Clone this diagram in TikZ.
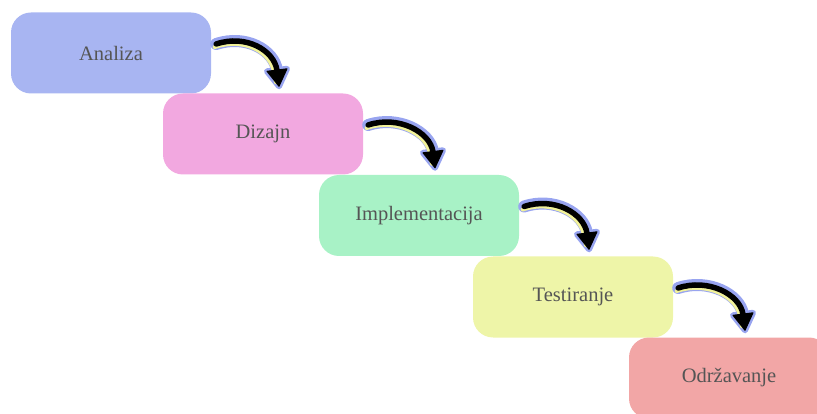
\documentclass[tikz,border=0pt]{standalone}
\usepackage{fontspec}
\setmainfont{Liberation Serif}
\usetikzlibrary{arrows.meta}
\definecolor{cA}{HTML}{A8B5F2}
\definecolor{cB}{HTML}{F2A8E0}
\definecolor{cC}{HTML}{A8F2C6}
\definecolor{cD}{HTML}{EEF5A8}
\definecolor{cE}{HTML}{F2A6A6}
\definecolor{glow}{HTML}{98A4F0}
\definecolor{hilite}{HTML}{F2F29A}
\definecolor{txt}{HTML}{555555}
\tikzset{
  stage/.style={rounded corners=20pt, minimum width=200pt, minimum height=81pt,
    inner sep=0pt, text=txt, font=\fontsize{20.5pt}{24pt}\selectfont},
  glowline/.style={draw=glow, line width=12pt, line cap=round, line join=round},
  glowtip/.style={draw=glow, fill=glow, line width=6pt, line join=round},
  hiline/.style={draw=hilite, line width=4pt, line cap=round},
  blackline/.style={draw=black, line width=5.5pt, line cap=round},
  blacktip/.style={draw=black, fill=black, line width=1pt, line join=round},
}
\begin{document}
\begin{tikzpicture}[x=1pt,y=1pt]
\useasboundingbox (0,0) rectangle (817,-414);
\node[stage, fill=cA] (a) at (111,-53) {Analiza};
\node[stage, fill=cB] (b) at (263,-134) {Dizajn};
\node[stage, fill=cC] (c) at (419,-215.5) {Implementacija};
\node[stage, fill=cD] (d) at (573,-297) {Testiranje};
\node[stage, fill=cE] (e) at (729,-378) {Održavanje};
\foreach \s/\t in {a/b,b/c,c/d,d/e}{
  \coordinate (s\s) at ([xshift=5pt,yshift=9pt]\s.east);
  \coordinate (m\s) at ([xshift=14pt,yshift=23pt]\t.north);
  \path[glowline] (s\s) .. controls +(30,10) and +(-3,20) .. (m\s);
  \path[glowtip] ([shift={(-10,-1)}]m\s) -- ([shift={(10,1.5)}]m\s) -- ([shift={(2,-16)}]m\s) -- cycle;
  \path[hiline] ([shift={(-1.5,-3)}]s\s) .. controls +(30,10) and +(-3,20) .. ([shift={(-3,-2)}]m\s) -- ([shift={(-1,-12)}]m\s);
  \path[blackline] (s\s) .. controls +(30,10) and +(-3,20) .. (m\s);
  \path[blacktip] ([shift={(-10,-1)}]m\s) -- ([shift={(10,1.5)}]m\s) -- ([shift={(2,-16)}]m\s) -- cycle;
}
\end{tikzpicture}
\end{document}
